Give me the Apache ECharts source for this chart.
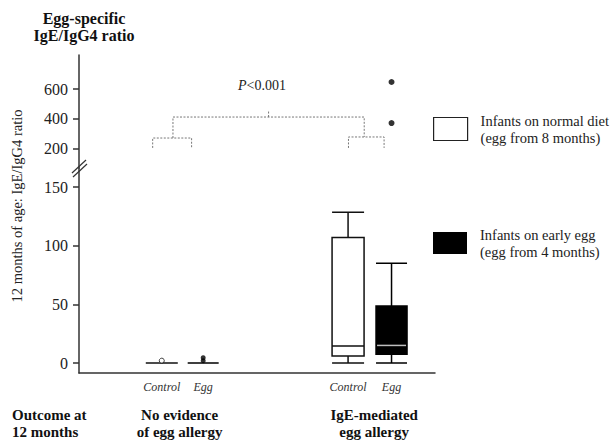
<!DOCTYPE html>
<html><head><meta charset="utf-8">
<script src="https://cdn.jsdelivr.net/npm/echarts@6/dist/echarts.min.js"></script>
<style>html,body{margin:0;padding:0;background:#fff}#c{width:615px;height:443px}</style>
</head><body><div id="c"></div>
<script>
// ---------------- data ----------------
const categories = ['Control', 'Egg', 'Control', 'Egg'];
const groupNames = ['No evidence\nof egg allergy', 'IgE-mediated\negg allergy'];
const seriesNames = ['Infants on normal diet (egg from 8 months)', 'Infants on early egg (egg from 4 months)'];
// box statistics per outcome group: [min, Q1, median, Q3, max]
const normalDietStats = [[0, 0, 0, 0, 0], [0, 6, 14.5, 107, 128.5]];
const earlyEggStats   = [[0, 0, 0, 0, 0], [0, 7.5, 15, 48.5, 85]];
// outliers: [groupIndex, value]
const normalDietOutliers = [[0, 2]];
const earlyEggOutliers   = [[0, 2], [0, 4.5], [1, 373], [1, 647]];
const lowerTicks = [0, 50, 100, 150];
const upperTicks = [200, 400, 600];
const pText = '{i|P}<0.001';

// ---------------- layout ----------------
const FONT = '"Liberation Serif", "DejaVu Serif", serif';
const AX = '#333';
const ctrlX = [2, 6.5], eggX = [3, 7.55], groupX = [2.43, 7.13];
const X_MAX = 8.6;
const LOWER = {min: -8.5, max: 166.2};
const UPPER = {min: 73, max: 827};
// significance bracket (annotation) in upper-panel coordinates
const bracketPaths = [
  [[1.78, 207], [1.78, 273], [2.72, 273], [2.72, 207]],
  [[2.27, 273], [2.27, 413], [6.89, 413], [6.89, 280]],
  [[6.51, 207], [6.51, 280], [7.37, 280], [7.37, 207]],
  [[4.58, 413], [4.58, 460]]
];

const chart = echarts.init(document.getElementById('c'), null, {renderer: 'svg'});

const inLower = v => v <= LOWER.max;
const lineStyle = {color: AX, width: 1.5};
const catPos = ctrlX.flatMap((c, i) => [c, eggX[i]]);

const series = [
  {
    type: 'boxplot', name: seriesNames[0], xAxisIndex: 0, yAxisIndex: 0,
    boxWidth: [32, 32], silent: true,
    itemStyle: {color: '#fff', borderColor: '#111', borderWidth: 1.5},
    data: normalDietStats.map((s, i) => [ctrlX[i], ...s])
  },
  {
    type: 'boxplot', name: seriesNames[1], xAxisIndex: 1, yAxisIndex: 0,
    boxWidth: [31, 31], silent: true,
    itemStyle: {color: '#000', borderColor: '#000', borderWidth: 1.5},
    data: earlyEggStats.map((s, i) => [eggX[i], ...s])
  },
  { // light median line inside the filled boxes
    type: 'scatter', name: 'egg-median', xAxisIndex: 1, yAxisIndex: 0, silent: true,
    symbol: 'rect', symbolSize: [29, 1.5], itemStyle: {color: '#eee'},
    data: earlyEggStats.map((s, i) => s[3] > s[1] ? [eggX[i], s[2]] : null).filter(Boolean)
  },
  {
    type: 'scatter', name: 'normal-outliers', xAxisIndex: 0, yAxisIndex: 0, silent: true,
    symbol: 'circle', symbolSize: 5,
    itemStyle: {color: '#fff', borderColor: '#111', borderWidth: 1},
    data: normalDietOutliers.filter(o => inLower(o[1])).map(o => [ctrlX[o[0]], o[1]])
  },
  {
    type: 'scatter', name: 'egg-outliers', xAxisIndex: 1, yAxisIndex: 0, silent: true,
    symbol: 'circle', symbolSize: 5, itemStyle: {color: '#000'},
    data: earlyEggOutliers.filter(o => inLower(o[1])).map(o => [eggX[o[0]], o[1]])
  },
  {
    type: 'scatter', name: 'egg-outliers-high', xAxisIndex: 2, yAxisIndex: 1, silent: true,
    symbol: 'circle', symbolSize: 6, itemStyle: {color: '#000'},
    data: earlyEggOutliers.filter(o => !inLower(o[1])).map(o => [eggX[o[0]], o[1]])
  }
].concat(bracketPaths.map((p, k) => ({
  type: 'line', name: 'bracket' + k, xAxisIndex: 2, yAxisIndex: 1, silent: true,
  symbol: 'none', data: p,
  lineStyle: {color: '#777', width: 1, type: [2, 1.5]}
})));

const legendText = {fontFamily: FONT, fontSize: 14.5, lineHeight: 17, color: '#222', padding: [0, 0, 0, 8]};

chart.setOption({
  animation: false,
  backgroundColor: '#fff',
  grid: [
    {left: 79, right: 180, top: 168, bottom: 70},
    {left: 79, right: 180, top: 55, bottom: 275}
  ],
  xAxis: [
    {
      gridIndex: 0, type: 'value', min: 0, max: X_MAX, position: 'bottom',
      axisLine: {show: true, onZero: false, lineStyle},
      axisTick: {show: false}, splitLine: {show: false},
      axisLabel: {
        customValues: catPos,
        formatter: v => categories[catPos.indexOf(v)] || '',
        margin: 8, fontFamily: FONT, fontStyle: 'italic', fontSize: 12, color: '#333'
      }
    },
    {
      gridIndex: 0, type: 'value', min: 0, max: X_MAX, position: 'bottom',
      axisLine: {show: false, onZero: false}, axisTick: {show: false}, splitLine: {show: false},
      axisLabel: {
        customValues: groupX,
        formatter: v => groupNames[groupX.indexOf(v)] || '',
        margin: 33, fontFamily: FONT, fontWeight: 'bold', fontSize: 15, lineHeight: 17, color: '#111'
      }
    },
    {gridIndex: 1, type: 'value', min: 0, max: X_MAX, show: false}
  ],
  yAxis: [
    {
      gridIndex: 0, type: 'value', min: LOWER.min, max: LOWER.max,
      axisLine: {show: true, onZero: false, lineStyle},
      axisTick: {show: true, customValues: lowerTicks, length: 6, lineStyle},
      axisLabel: {customValues: lowerTicks, margin: 11, fontFamily: FONT, fontSize: 16, color: '#222'},
      splitLine: {show: false}
    },
    {
      gridIndex: 1, type: 'value', min: UPPER.min, max: UPPER.max,
      axisLine: {show: true, onZero: false, lineStyle},
      axisTick: {show: true, customValues: upperTicks, length: 6, lineStyle},
      axisLabel: {customValues: upperTicks, margin: 11, fontFamily: FONT, fontSize: 16, color: '#222'},
      splitLine: {show: false}
    }
  ],
  legend: [
    {
      data: [{name: seriesNames[0], icon: 'rect', itemStyle: {color: '#fff', borderColor: '#222', borderWidth: 1.2}}],
      left: 428, top: 107, itemWidth: 34, itemHeight: 23, selectedMode: false,
      formatter: n => n.replace(' (', '\n('), textStyle: legendText
    },
    {
      data: [{name: seriesNames[1], icon: 'rect', itemStyle: {color: '#000', borderColor: '#000', borderWidth: 0}}],
      left: 428, top: 221, itemWidth: 34, itemHeight: 22, selectedMode: false,
      formatter: n => n.replace(' (', '\n('), textStyle: legendText
    }
  ],
  graphic: [
    {type: 'text', x: 84, y: 10, silent: true,
     style: {text: 'Egg-specific\nIgE/IgG4 ratio', font: 'bold 16px ' + FONT, lineHeight: 17, align: 'center', fill: '#111'}},
    {type: 'text', x: 17, y: 206, rotation: Math.PI / 2, silent: true,
     style: {text: '12 months of age: IgE/IgG4 ratio', font: '14.5px ' + FONT, align: 'center', verticalAlign: 'middle', fill: '#222'}},
    {type: 'text', x: 12, y: 406, silent: true,
     style: {text: 'Outcome at\n12 months', font: 'bold 15px ' + FONT, lineHeight: 17, align: 'left', fill: '#111'}},
    {type: 'text', x: 262, y: 85, silent: true,
     style: {text: pText, font: '14px ' + FONT, align: 'center', verticalAlign: 'middle', fill: '#222',
             rich: {i: {fontStyle: 'italic', fontFamily: FONT, fontSize: 14}}}},
    {type: 'line', silent: true, shape: {x1: 72, y1: 173, x2: 86, y2: 160}, style: {stroke: AX, lineWidth: 1.2}},
    {type: 'line', silent: true, shape: {x1: 73, y1: 177, x2: 87, y2: 164}, style: {stroke: AX, lineWidth: 1.2}}
  ],
  series
});
</script></body></html>
